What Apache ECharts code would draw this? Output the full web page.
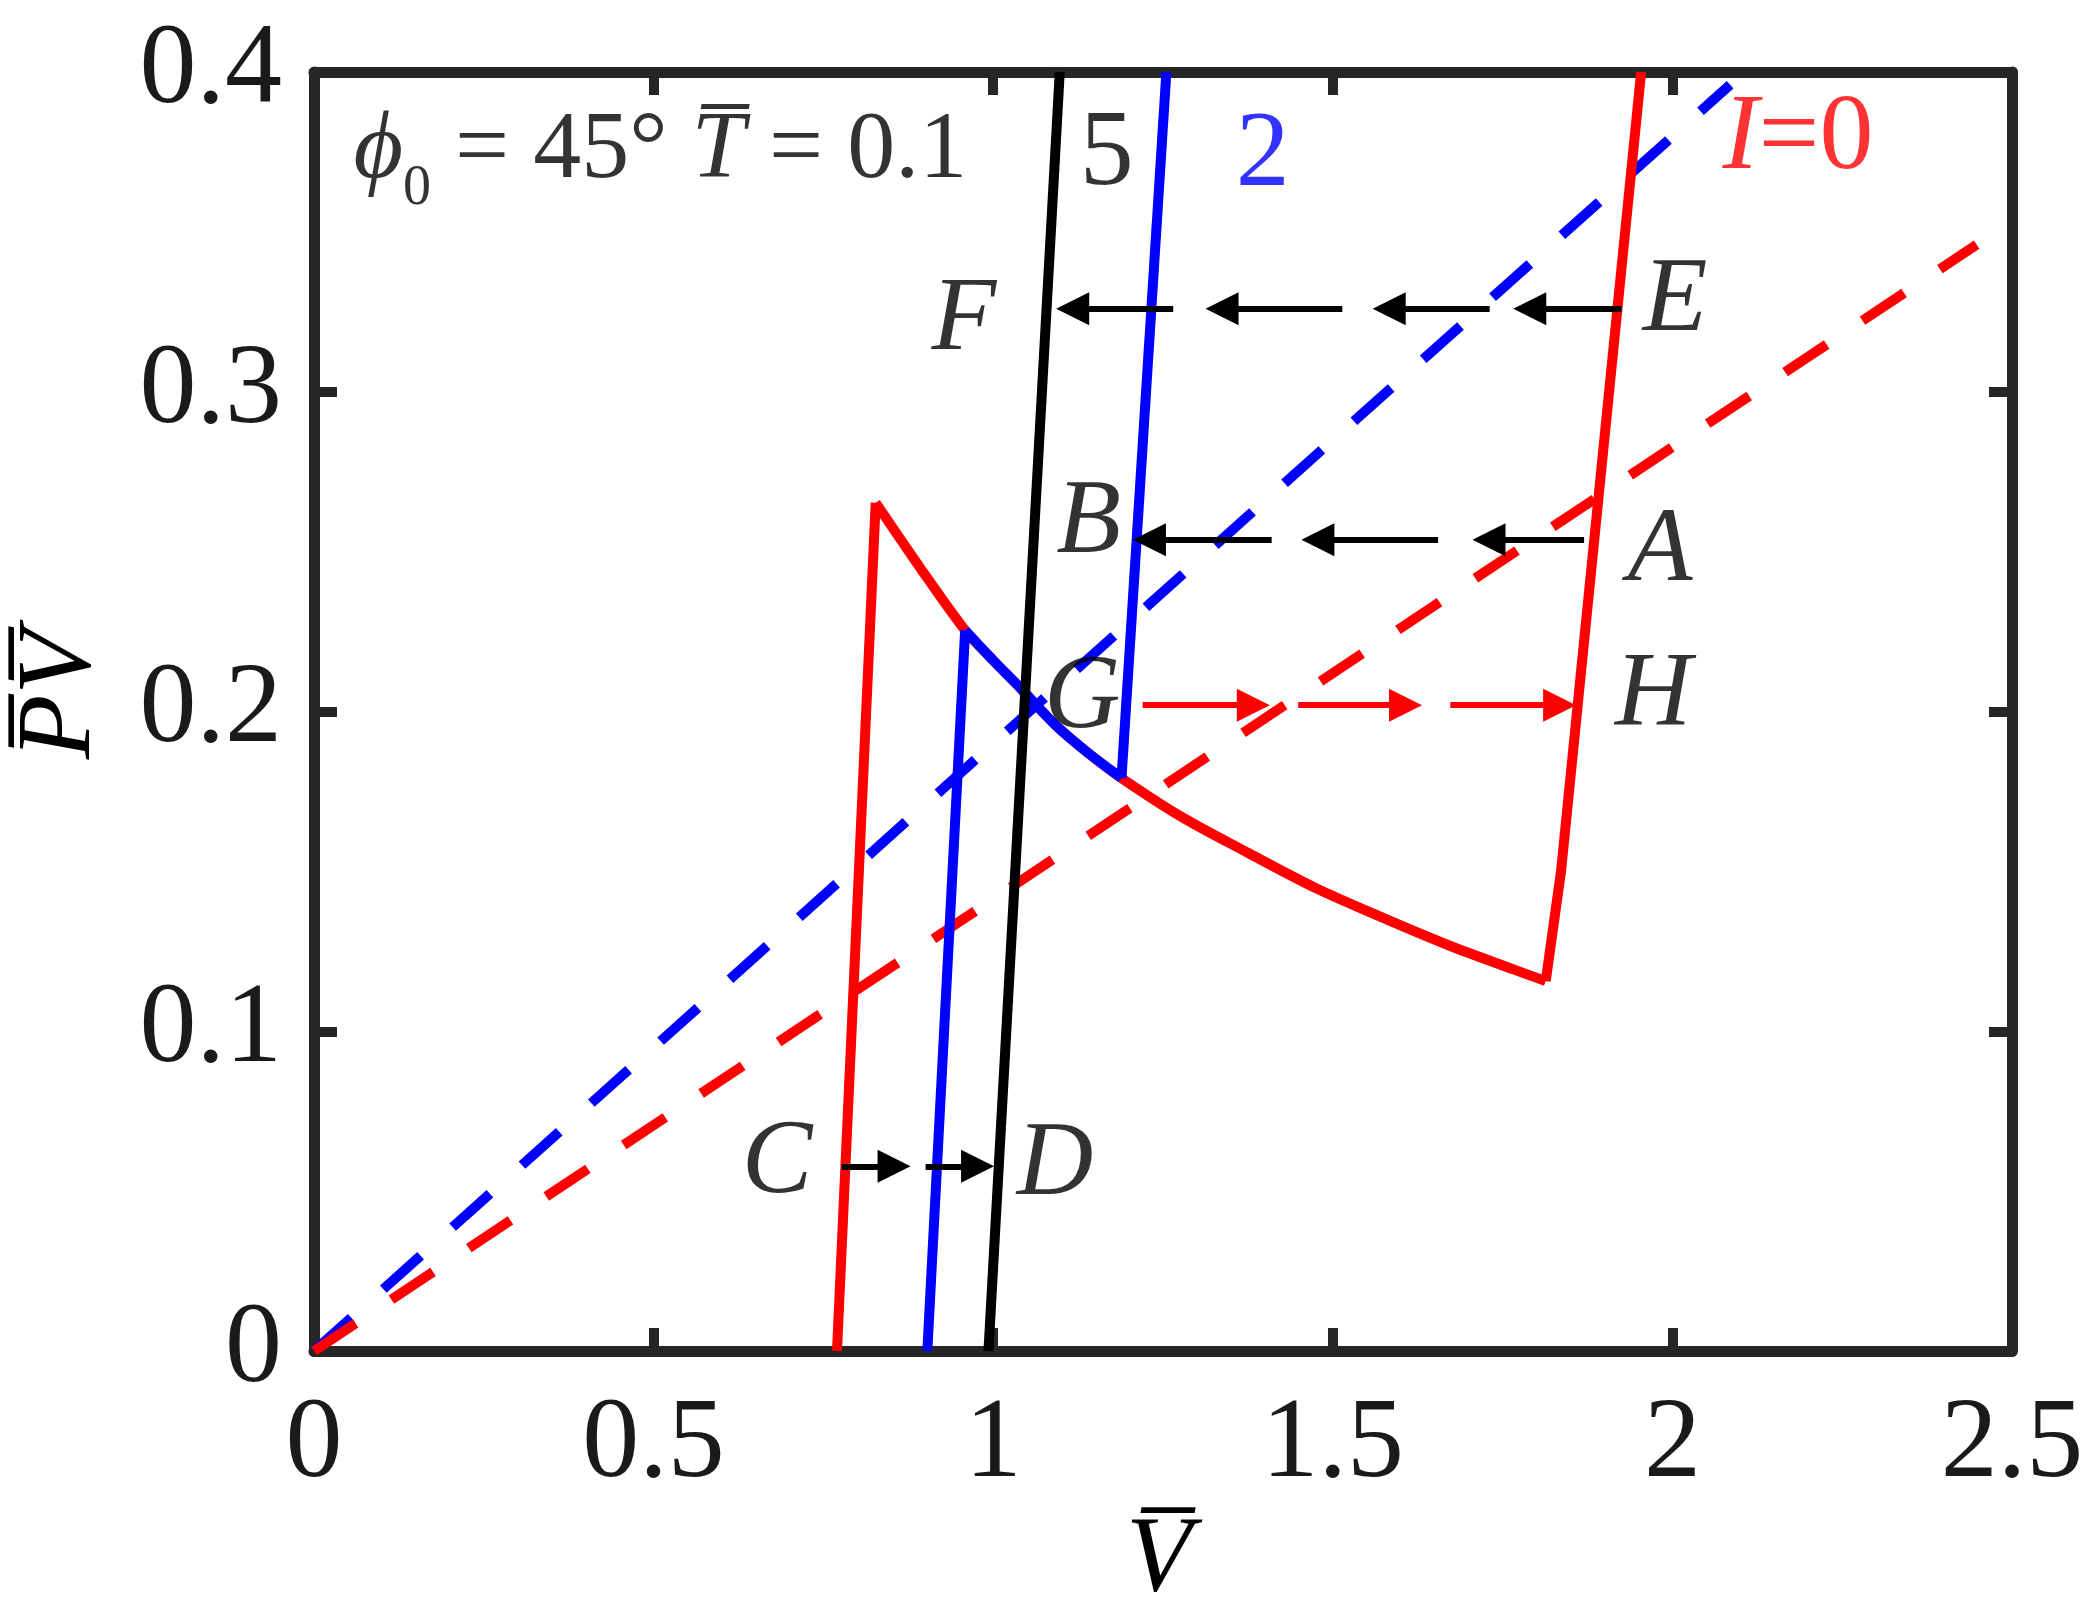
<!DOCTYPE html>
<html>
<head>
<meta charset="utf-8">
<title>PV - V</title>
<script src="https://cdn.jsdelivr.net/npm/echarts@6/dist/echarts.min.js"></script>
<style>
    html, body { margin: 0; padding: 0; background: #fff; }
    #chart { width: 2094px; height: 1621px; }
</style>
</head>
<body>
<div id="chart"></div>
<script>
// 坐标轴范围与刻度
var xTicks = [0, 0.5, 1, 1.5, 2, 2.5];
var yTicks = [0, 0.1, 0.2, 0.3, 0.4];

// 实线 (V, PV)，I = 0：上升段 + 下降曲线 + 右侧上升段
var riseI0 = [[0.770, 0], [0.827, 0.2653]];
var dropI0 = [[0.827, 0.2653], [0.893, 0.2448], [0.9587, 0.2254], [1.000, 0.2160], [1.0393, 0.2075],
    [1.093, 0.1955], [1.140, 0.1870], [1.1889, 0.1792], [1.2786, 0.1669], [1.3763, 0.1557],
    [1.4739, 0.1449], [1.5716, 0.1357], [1.6694, 0.1270], [1.767, 0.1193], [1.8135, 0.1157]];
var backI0 = [[1.8135, 0.1157], [1.836, 0.150], [1.954, 0.400]];

// I = 2
var riseI2 = [[0.903, 0], [0.9587, 0.2254]];
var dropI2 = [[0.9587, 0.2254], [1.000, 0.2160], [1.0393, 0.2075], [1.093, 0.1955], [1.140, 0.1870],
    [1.1889, 0.1792]];
var backI2 = [[1.1889, 0.1792], [1.255, 0.400]];

// I = 5
var curveI5 = [[0.993, 0], [1.098, 0.400]];

// 虚线
var dashI2 = [[0, 0], [2.085, 0.396]];
var dashI0 = [[0, 0], [2.448, 0.346]];

// 箭头 [起点V, 终点V, PV]
var arrowsEF = [[1.925, 1.766, 0.326], [1.731, 1.559, 0.326], [1.514, 1.313, 0.326], [1.265, 1.093, 0.326]];
var arrowsAB = [[1.870, 1.706, 0.2537], [1.655, 1.454, 0.2537], [1.410, 1.206, 0.2537]];
var arrowsCD = [[0.777, 0.878, 0.0578], [0.9005, 1.001, 0.0578]];
var arrowsGH = [[1.220, 1.407, 0.2020], [1.449, 1.631, 0.2020], [1.673, 1.858, 0.2020]];

// 点标注
var pointNames = ['F', 'E', 'B', 'A', 'G', 'H', 'C', 'D'];
var pointPos = [[0.957, 0.322], [2.004, 0.328], [1.1405, 0.2587], [1.982, 0.250],
    [1.131, 0.2038], [1.972, 0.2049], [0.682, 0.0584], [1.091, 0.0578]];

// 曲线标注
var curveNames = ['5', '2', 'I=0'];
var curveNamePos = [[1.167, 0.374], [1.397, 0.3735], [2.185, 0.379]];
var titlePos = [0.058, 0.375];

var FONT = 'Liberation Serif';
var AXIS_COLOR = '#262626';
var RED = '#ff0000';
var BLUE = '#0000ff';
var BLACK = '#000000';

function arrowLines(list) {
    var headHalf = 0.024; // 箭头一半长度（数据单位）
    return list.map(function (a) {
        var dir = a[1] > a[0] ? 1 : -1;
        return [{ coord: [a[0], a[2]] }, { coord: [a[1] - dir * headHalf, a[2]] }];
    });
}

function arrowSeries(list, color) {
    return {
        type: 'scatter',
        data: [[list[0][0], list[0][2]]],
        symbolSize: 0,
        silent: true,
        z: 4,
        markLine: {
            silent: true,
            animation: false,
            symbol: ['none', 'triangle'],
            symbolSize: 33,
            label: { show: false },
            lineStyle: { color: color, width: 6, type: 'solid' },
            emphasis: { disabled: true },
            data: arrowLines(list)
        }
    };
}

function lineSeries(data, color, opt) {
    opt = opt || {};
    return {
        type: 'line',
        data: data,
        showSymbol: false,
        symbol: 'none',
        silent: true,
        smooth: opt.smooth ? 0.3 : false,
        lineStyle: { color: color, width: 10, type: opt.dashed ? [50, 43] : 'solid', cap: 'butt', join: 'miter' },
        z: opt.dashed ? 2 : (opt.z || 3)
    };
}

var labelColors = { '5': BLACK, '2': BLUE, 'I=0': RED };

var chart = echarts.init(document.getElementById('chart'));
var option = {
    animation: false,
    backgroundColor: '#fff',
    grid: { left: 307.5, right: 82, top: 72, bottom: 248 },
    xAxis: [{
        type: 'value', min: 0, max: 2.5, interval: 0.5, position: 'bottom',
        axisLine: { onZero: false, lineStyle: { color: AXIS_COLOR, width: 11 } },
        axisTick: { inside: true, length: 23, lineStyle: { color: AXIS_COLOR, width: 10 } },
        axisLabel: { margin: 38, color: '#1a1a1a', fontFamily: FONT, fontSize: 114 },
        splitLine: { show: false },
        name: '{v|V\u0305}',
        nameLocation: 'middle',
        nameGap: 128,
        nameTextStyle: {
            padding: [0, 8, 0, 0],
            rich: { v: { fontFamily: FONT, fontSize: 108, fontStyle: 'italic', color: '#000' } }
        }
    }, {
        type: 'value', min: 0, max: 2.5, interval: 0.5, position: 'top',
        axisLine: { onZero: false, lineStyle: { color: AXIS_COLOR, width: 11 } },
        axisTick: { inside: true, length: 23, lineStyle: { color: AXIS_COLOR, width: 10 } },
        axisLabel: { show: false },
        splitLine: { show: false }
    }],
    yAxis: [{
        type: 'value', min: 0, max: 0.4, interval: 0.1, position: 'left',
        axisLine: { onZero: false, lineStyle: { color: AXIS_COLOR, width: 11 } },
        axisTick: { inside: true, length: 23, lineStyle: { color: AXIS_COLOR, width: 10 } },
        axisLabel: { margin: 32, color: '#1a1a1a', fontFamily: FONT, fontSize: 114 },
        splitLine: { show: false },
        name: '{v|P\u0305V\u0305}',
        nameLocation: 'middle',
        nameRotate: 90,
        nameGap: 200,
        nameTextStyle: {
            padding: [0, 0, 0, 34],
            rich: { v: { fontFamily: FONT, fontSize: 106, fontStyle: 'italic', color: '#000' } }
        }
    }, {
        type: 'value', min: 0, max: 0.4, interval: 0.1, position: 'right',
        axisLine: { onZero: false, lineStyle: { color: AXIS_COLOR, width: 11 } },
        axisTick: { inside: true, length: 23, lineStyle: { color: AXIS_COLOR, width: 10 } },
        axisLabel: { show: false },
        splitLine: { show: false }
    }],
    series: [
        lineSeries(dashI2, BLUE, { dashed: true }),
        lineSeries(dashI0, RED, { dashed: true }),
        lineSeries(riseI0, RED),
        lineSeries(dropI0, RED, { smooth: true }),
        lineSeries(backI0, RED),
        lineSeries(riseI2, BLUE, { z: 3.1 }),
        lineSeries(dropI2, BLUE, { smooth: true, z: 3.1 }),
        lineSeries(backI2, BLUE, { z: 3.1 }),
        lineSeries(curveI5, BLACK, { z: 3.2 }),
        arrowSeries(arrowsEF, BLACK),
        arrowSeries(arrowsAB, BLACK),
        arrowSeries(arrowsCD, BLACK),
        arrowSeries(arrowsGH, RED),
        {
            // A-H 点标注
            type: 'scatter',
            symbolSize: 0,
            silent: true,
            z: 5,
            data: pointPos.map(function (p, i) { return { value: p, name: pointNames[i] }; }),
            label: {
                show: true, position: 'inside', formatter: '{b}',
                fontFamily: FONT, fontSize: 106, fontStyle: 'italic', color: '#000'
            }
        },
        {
            // 曲线编号
            type: 'scatter',
            symbolSize: 0,
            silent: true,
            z: 5,
            data: curveNamePos.map(function (p, i) {
                return { value: p, name: curveNames[i], label: { color: labelColors[curveNames[i]] } };
            }),
            label: {
                show: true, position: 'inside',
                formatter: function (p) {
                    if (p.name === 'I=0') return '{i|I}{n|=0}';
                    return p.name;
                },
                fontFamily: FONT, fontSize: 108,
                rich: {
                    i: { fontFamily: FONT, fontSize: 108, fontStyle: 'italic', color: RED },
                    n: { fontFamily: FONT, fontSize: 108, color: RED }
                }
            }
        },
        {
            // 参数说明
            type: 'scatter',
            symbolSize: 0,
            silent: true,
            z: 5,
            data: [{ value: titlePos, name: 'title' }],
            label: {
                show: true, position: 'inside', align: 'left',
                formatter: '{it|\u03d5}{sub|0}{n| = 45\u00b0 }{it|T\u0305}{n| = 0.1}',
                rich: {
                    n: { fontFamily: FONT, fontSize: 96, lineHeight: 130, color: '#000' },
                    it: { fontFamily: FONT, fontSize: 96, lineHeight: 130, fontStyle: 'italic', color: '#000' },
                    sub: { fontFamily: FONT, fontSize: 56, lineHeight: 60, verticalAlign: 'bottom', color: '#000' }
                }
            }
        }
    ]
};
chart.setOption(option);
</script>
</body>
</html>
